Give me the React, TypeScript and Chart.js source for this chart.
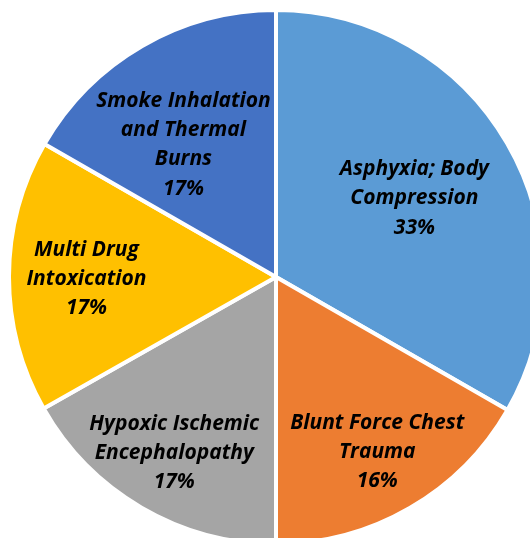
import React, { useEffect, useRef } from "react";
import { Chart, registerables } from "chart.js";

Chart.register(...registerables);

const categories: string[][] = [
  ["Asphyxia; Body", "Compression"],
  ["Blunt Force Chest", "Trauma"],
  ["Hypoxic Ischemic", "Encephalopathy"],
  ["Multi Drug", "Intoxication"],
  ["Smoke Inhalation", "and Thermal", "Burns"],
];
const values: number[] = [33.3, 16.7, 16.8, 16.5, 16.7];
const percentLabels: string[] = ["33%", "16%", "17%", "17%", "17%"];
const colors: string[] = ["#5B9BD5", "#ED7D31", "#A5A5A5", "#FFC000", "#4472C4"];

// label placement relative to each slice (fraction of radius, angle shift in degrees)
const labelRadius: number[] = [0.596, 0.757, 0.761, 0.71, 0.605];
const labelShift: number[] = [0.5, 0, -0.2, -0.8, -4.9];

const labelPlugin = {
  id: "sliceLabels",
  afterDatasetsDraw(chart: any) {
    const ctx = chart.ctx as CanvasRenderingContext2D;
    const meta = chart.getDatasetMeta(0);
    ctx.save();
    ctx.font = "italic bold 21px 'Open Sans'";
    ctx.fillStyle = "#000";
    ctx.textAlign = "center";
    ctx.textBaseline = "middle";
    const lh = 29.3;
    meta.data.forEach((arc: any, i: number) => {
      const p = arc.getProps(["x", "y", "startAngle", "endAngle", "outerRadius"], true);
      const mid = (p.startAngle + p.endAngle) / 2 + (labelShift[i] * Math.PI) / 180;
      const r = p.outerRadius * labelRadius[i];
      const cx = p.x + Math.cos(mid) * r;
      const cy = p.y + Math.sin(mid) * r;
      const lines = [...categories[i], percentLabels[i]];
      const top = cy - ((lines.length - 1) * lh) / 2;
      lines.forEach((t, k) => ctx.fillText(t, cx, top + k * lh));
    });
    ctx.restore();
  },
};

export default function App() {
  const ref = useRef<HTMLCanvasElement>(null);
  useEffect(() => {
    if (!ref.current) return;
    const chart = new Chart(ref.current, {
      type: "pie",
      data: {
        labels: categories.map((c) => c.join(" ")),
        datasets: [
          {
            data: values,
            backgroundColor: colors,
            borderColor: "#ffffff",
            borderWidth: 4,
          },
        ],
      },
      options: {
        responsive: false,
        animation: false,
        layout: { padding: 0 },
        plugins: {
          legend: { display: false },
          tooltip: { enabled: false },
        },
      },
      plugins: [labelPlugin],
    });
    return () => chart.destroy();
  }, []);
  return (
    <div
      style={{
        position: "fixed",
        left: 0,
        top: 0,
        width: 530,
        height: 538,
        overflow: "hidden",
        background: "#fff",
      }}
    >
      <canvas
        ref={ref}
        width={538}
        height={538}
        style={{ position: "absolute", left: 7, top: 8, width: 538, height: 538 }}
      />
    </div>
  );
}
